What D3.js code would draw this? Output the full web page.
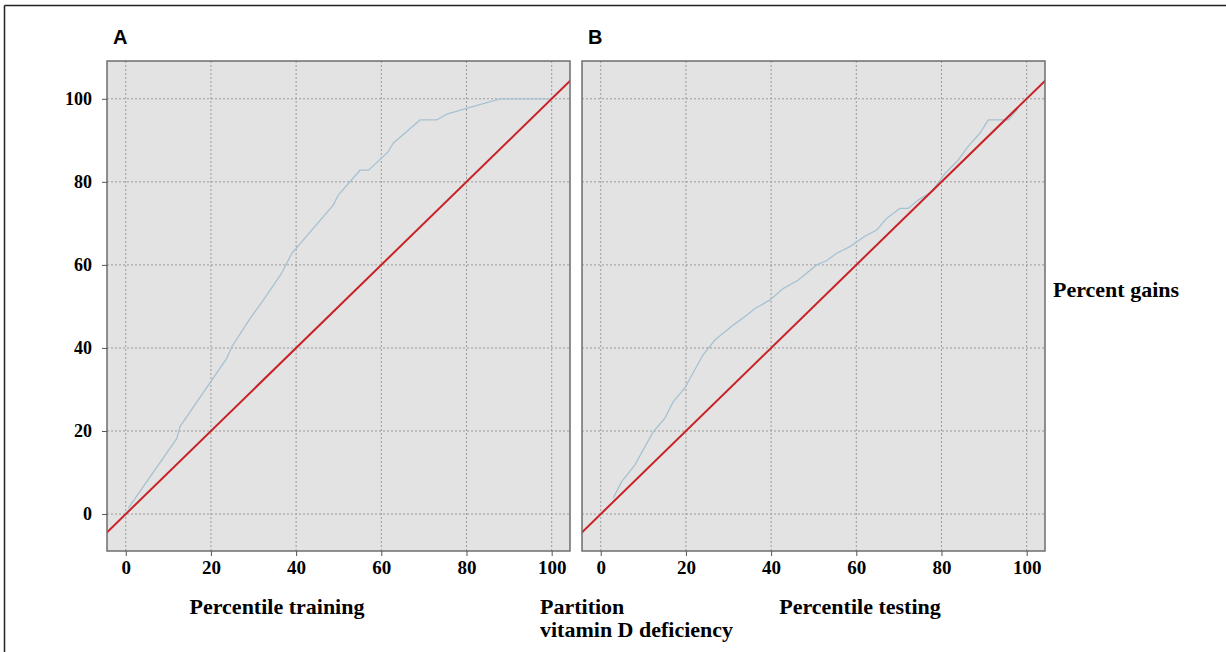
<!DOCTYPE html>
<html>
<head>
<meta charset="utf-8">
<script src="https://cdn.jsdelivr.net/npm/d3@7"></script>
<style>
  body { margin: 0; background: #fff; }
  svg { display: block; }
</style>
</head>
<body>
<svg id="chart" width="1226" height="652"></svg>
<script>
const width = 1226;
const height = 652;

// ticks shared by both panels
const xTicks = [0, 20, 40, 60, 80, 100];
const yTicks = [0, 20, 40, 60, 80, 100];

// cumulative gains curve, training partition (percentile, percent gain)
const trainX = [0.6, 12, 12.7, 23.7, 24.9, 29.2, 32.3, 36.6, 37.8, 39, 48.7, 49.9, 55, 57, 61.6, 62.8, 69.1, 73, 75.4, 80, 87.9, 100];
const trainY = [1.4, 18.2, 21, 37.5, 40.3, 47.1, 51.5, 58, 60.4, 62.8, 74.4, 76.8, 82.8, 82.8, 87.2, 89.3, 94.9, 94.9, 96.3, 97.7, 100, 100];

// cumulative gains curve, testing partition
const testX = [2.9, 4.9, 8, 12.3, 15, 17, 19.7, 24, 26.8, 31.1, 33.8, 36.2, 39.7, 42.8, 46.3, 50.7, 53, 55.4, 58.5, 62, 64.8, 67.1, 70.2, 72.2, 74.5, 77.7, 80.8, 83.9, 86.3, 89, 91, 95.7, 98];
const testY = [3.8, 7.8, 11.8, 19.8, 23, 27, 30.3, 38.3, 41.9, 45.5, 47.5, 49.5, 51.5, 54.3, 56.3, 60, 61, 62.8, 64.4, 66.9, 68.4, 71.2, 73.6, 73.6, 75.6, 77.6, 82, 85.2, 88.6, 91.7, 94.9, 94.9, 97.7];

// baseline (random model) y = x
const baseX = [-10, 110];

const svg = d3.select("#chart");
const serif = "'Liberation Serif', 'Times New Roman', serif";

// frame: only top and left edges are visible
svg.append("line").attr("x1", 4.5).attr("x2", width).attr("y1", 5.5).attr("y2", 5.5)
  .attr("stroke", "#222").attr("stroke-width", 1.5);
svg.append("line").attr("x1", 4.5).attr("x2", 4.5).attr("y1", 5.5).attr("y2", height)
  .attr("stroke", "#222").attr("stroke-width", 1.5);

const panels = [
  { key: "A", left: 107, xs: trainX, ys: trainY, title: "Percentile training", titleX: 277 },
  { key: "B", left: 582, xs: testX, ys: testY, title: "Percentile testing", titleX: 860 }
];

const plotTop = 61, plotW = 463, plotH = 490;

panels.forEach((p, i) => {
  const g = svg.append("g").attr("transform", `translate(${p.left},${plotTop})`);

  const x = d3.scaleLinear().domain([-4.4, 104.3]).range([0, plotW]);
  const y = d3.scaleLinear().domain([-8.9, 109.1]).range([plotH, 0]);

  const clipId = "clip" + p.key;
  g.append("clipPath").attr("id", clipId)
    .append("rect").attr("width", plotW).attr("height", plotH);

  g.append("rect").attr("width", plotW).attr("height", plotH).attr("fill", "#e3e3e3");

  // grid
  g.append("g").selectAll("line").data(xTicks).join("line")
    .attr("x1", d => x(d)).attr("x2", d => x(d))
    .attr("y1", 0).attr("y2", plotH)
    .attr("stroke", "#9a9a9a").attr("stroke-width", 1).attr("stroke-dasharray", "2,2");
  g.append("g").selectAll("line").data(yTicks).join("line")
    .attr("y1", d => y(d)).attr("y2", d => y(d))
    .attr("x1", 0).attr("x2", plotW)
    .attr("stroke", "#9a9a9a").attr("stroke-width", 1).attr("stroke-dasharray", "2,2");

  const line = d3.line().x(d => x(d[0])).y(d => y(d[1]));
  const curve = p.xs.map((v, j) => [v, p.ys[j]]);

  g.append("path").datum(curve)
    .attr("d", line)
    .attr("fill", "none").attr("stroke", "#a6c2d2").attr("stroke-width", 1.3)
    .attr("clip-path", `url(#${clipId})`);

  g.append("path").datum(baseX.map(v => [v, v]))
    .attr("d", line)
    .attr("fill", "none").attr("stroke", "#c92226").attr("stroke-width", 2)
    .attr("clip-path", `url(#${clipId})`);

  g.append("rect").attr("width", plotW).attr("height", plotH)
    .attr("fill", "none").attr("stroke", "#6e6e6e").attr("stroke-width", 1.5);

  // x axis
  const xAxis = g.append("g").attr("transform", `translate(0,${plotH})`)
    .call(d3.axisBottom(x).tickValues(xTicks).tickSize(5).tickPadding(5));
  xAxis.select(".domain").remove();
  xAxis.selectAll("line").attr("stroke", "#555");
  xAxis.selectAll("text")
    .attr("font-family", serif)
    .attr("font-weight", "bold").attr("font-size", 19).attr("fill", "#000");

  // y axis only on panel A
  if (i === 0) {
    const yAxis = g.append("g")
      .call(d3.axisLeft(y).tickValues(yTicks).tickSize(5).tickPadding(10));
    yAxis.select(".domain").remove();
    yAxis.selectAll("line").attr("stroke", "#555");
    yAxis.selectAll("text")
      .attr("font-family", serif)
      .attr("font-weight", "bold").attr("font-size", 18).attr("fill", "#000");
  }

  // panel letter
  svg.append("text").attr("x", p.left + 6).attr("y", 44)
    .attr("font-family", "'Liberation Sans', Arial, sans-serif")
    .attr("font-weight", "bold").attr("font-size", 20)
    .text(p.key);

  svg.append("text").attr("x", p.titleX).attr("y", 614)
    .attr("text-anchor", "middle")
    .attr("font-family", serif)
    .attr("font-weight", "bold").attr("font-size", 22)
    .text(p.title);
});

svg.append("text").attr("x", 540).attr("y", 614)
  .attr("font-family", serif).attr("font-weight", "bold").attr("font-size", 22)
  .text("Partition");
svg.append("text").attr("x", 540).attr("y", 637)
  .attr("font-family", serif).attr("font-weight", "bold").attr("font-size", 22)
  .text("vitamin D deficiency");
svg.append("text").attr("x", 1053).attr("y", 297)
  .attr("font-family", serif).attr("font-weight", "bold").attr("font-size", 22)
  .text("Percent gains");
</script>
</body>
</html>
